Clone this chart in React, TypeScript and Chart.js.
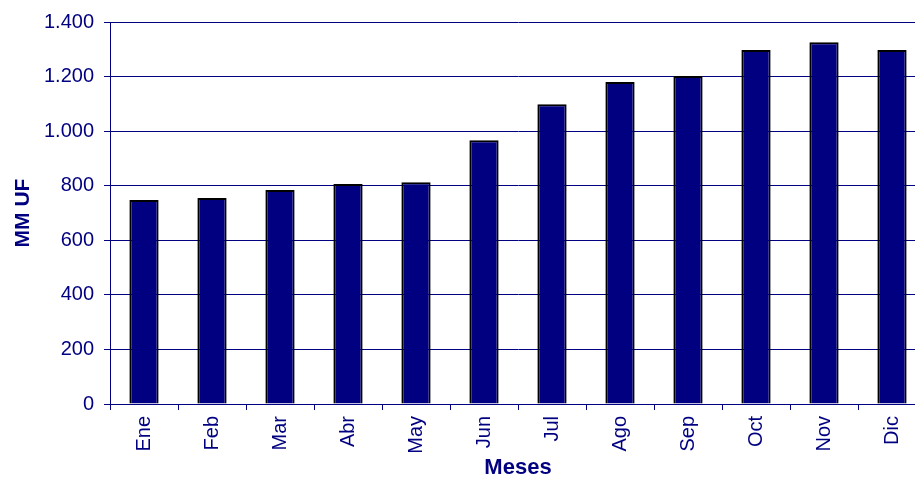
import React, { useEffect, useRef } from "react";
import { Chart, registerables } from "chart.js";

Chart.register(...registerables);

const categories = ["Ene", "Feb", "Mar", "Abr", "May", "Jun", "Jul", "Ago", "Sep", "Oct", "Nov", "Dic"];
const values = [748, 755, 784, 806, 813, 967, 1099, 1180, 1202, 1297, 1326, 1297];
const yTicks = [0, 200, 400, 600, 800, 1000, 1200, 1400];

const NAVY = "#000080";
const FONT = "'Liberation Sans', Arial, sans-serif";

function fmt(v: number): string {
  return String(v).replace(/\B(?=(\d{3})+(?!\d))/g, ".");
}

export default function App() {
  const ref = useRef<HTMLCanvasElement | null>(null);
  useEffect(() => {
    if (!ref.current) return;
    const chart = new Chart(ref.current, {
      type: "bar",
      data: {
        labels: categories,
        datasets: [
          {
            data: values,
            backgroundColor: NAVY,
            borderColor: "#000000",
            borderWidth: 2,
            barPercentage: 0.86,
            categoryPercentage: 0.5,
          },
        ],
      },
      options: {
        responsive: false,
        animation: false,
        devicePixelRatio: 1,
        layout: { padding: { top: 22, right: 4, left: 0, bottom: 0 } },
        plugins: { legend: { display: false }, tooltip: { enabled: false } },
        scales: {
          x: {
            offset: true,
            grid: {
              display: true,
              offset: true,
              drawOnChartArea: false,
              drawTicks: true,
              tickLength: 6,
              color: NAVY,
              lineWidth: 1,
            },
            border: { display: true, color: NAVY, width: 1 },
            ticks: {
              color: NAVY,
              font: { family: FONT, size: 20 },
              minRotation: 90,
              maxRotation: 90,
              padding: 6,
              autoSkip: false,
            },
            title: {
              display: true,
              text: "Meses",
              color: NAVY,
              font: { family: FONT, size: 22, weight: "bold" },
              padding: { top: 2, bottom: 0 },
            },
            afterFit: (s: any) => {
              s.height = 77;
            },
          },
          y: {
            min: 0,
            max: 1400,
            afterBuildTicks: (s: any) => {
              s.ticks = yTicks.map((v) => ({ value: v }));
            },
            grid: {
              color: NAVY,
              lineWidth: 1,
              drawTicks: true,
              tickLength: 6,
            },
            border: { display: true, color: NAVY, width: 1 },
            ticks: {
              color: NAVY,
              font: { family: FONT, size: 20 },
              padding: 10,
              callback: (v: any) => fmt(Number(v)),
            },
            title: {
              display: true,
              text: "MM UF",
              color: NAVY,
              font: { family: FONT, size: 21, weight: "bold" },
              padding: { top: 11, bottom: 0 },
            },
            afterFit: (s: any) => {
              s.width = 110;
            },
          },
        },
      },
    });
    return () => chart.destroy();
  }, []);
  return (
    <div
      style={{
        position: "fixed",
        left: 0,
        top: 0,
        width: 915,
        height: 481,
        overflow: "hidden",
        background: "#fff",
      }}
    >
      <canvas ref={ref} width={930} height={481} style={{ width: 930, height: 481, display: "block" }} />
    </div>
  );
}
